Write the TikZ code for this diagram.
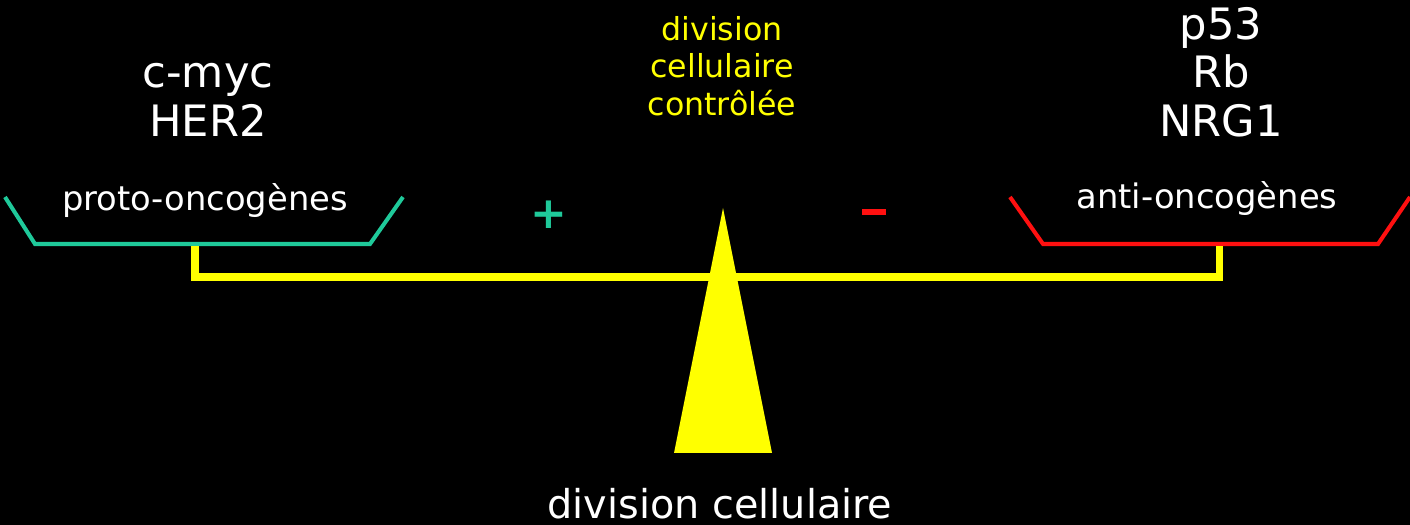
\documentclass[tikz,border=0pt]{standalone}
\usepackage{fontspec}
\setmainfont{DejaVu Sans}
\usetikzlibrary{positioning}
\definecolor{trayGreen}{HTML}{1FC99A}
\definecolor{trayRed}{HTML}{FF1010}
\definecolor{beamYellow}{HTML}{FFFF00}

\begin{document}
\begin{tikzpicture}[x=0.01cm, y=-0.01cm,
  gene/.style={text=white, align=center, inner sep=0pt, font=\fontsize{12.3}{13.8}\selectfont},
  traytext/.style={text=white, inner sep=0pt, font=\fontsize{9.6}{11}\selectfont},
  sign/.style={inner sep=0pt, font=\fontsize{12.5}{12.5}\selectfont\bfseries},
  tray/.style={line width=1.15pt, line join=miter},
  beam/.style={draw=beamYellow, line width=2pt}
]
% background
\fill[black] (0,0) rectangle (1410,525);
\useasboundingbox (0,0) rectangle (1410,525);

% left tray
\coordinate (gl1) at (5,197);
\coordinate (gl2) at (35,244);
\coordinate (gl3) at (370,244);
\coordinate (gl4) at (403,197);
\draw[tray, draw=trayGreen] (gl1) -- (gl2) -- (gl3) -- (gl4);
\node[traytext] (proto) at (205,201) {proto-oncogènes};
\node[gene] (oncos) at (208,100) {c-myc\\HER2};

% right tray
\coordinate (rl1) at (1010,197);
\coordinate (rl2) at (1043,244);
\coordinate (rl3) at (1378,244);
\coordinate (rl4) at (1410,197);
\draw[tray, draw=trayRed] (rl1) -- (rl2) -- (rl3) -- (rl4);
\node[traytext] (anti) at (1207,199) {anti-oncogènes};
\node[gene] (supp) at (1221,72) {p53\\Rb\\NRG1};

% beam
\coordinate (hookL) at (195,246);
\coordinate (hookR) at (1219,246);
\draw[beam] (hookL) |- (1219,277) -- (hookR);

% pivot
\coordinate (apex) at (723,208);
\coordinate (baseL) at (674,453);
\coordinate (baseR) at (772,453);
\fill[beamYellow] (apex) -- (baseR) -- (baseL) -- cycle;

\node[sign, text=trayGreen] (plus) at (549,215) {+};
\node[sign, text=trayRed] (minus) at (874,212) {\rule{6.8pt}{1.8pt}};

\node[text=beamYellow, align=center, inner sep=0pt, font=\fontsize{9}{10.6}\selectfont]
  (ctrl) at (722,66) {division\\cellulaire\\contrôlée};
\node[text=white, inner sep=0pt, font=\fontsize{11.3}{13}\selectfont]
  (div) at (720,504) {division cellulaire};
\end{tikzpicture}
\end{document}
